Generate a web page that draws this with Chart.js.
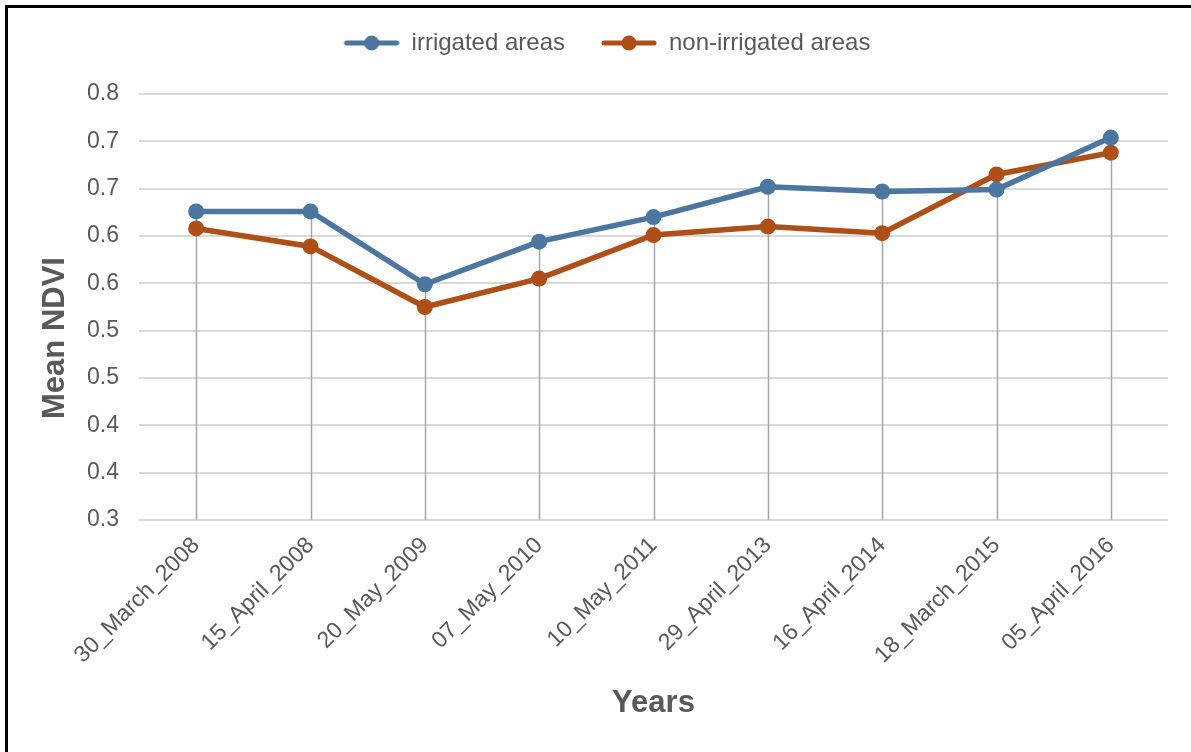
<!DOCTYPE html>
<html>
<head>
<meta charset="utf-8">
<script src="https://cdn.jsdelivr.net/npm/chart.js@4.4.0/dist/chart.umd.min.js"></script>
<style>
  body { margin: 0; background: #fff; }
  #wrap { position: relative; width: 1191px; height: 752px; }
  #frame { position: absolute; left: 5px; top: 5px; right: 0; bottom: 0;
           border-top: 3px solid #000; border-left: 3px solid #000; pointer-events: none; }
</style>
</head>
<body>
<div id="wrap">
  <canvas id="myChart" width="1191" height="752"></canvas>
  <div id="frame"></div>
</div>
<script>
var dates = ['30_March_2008', '15_April_2008', '20_May_2009', '07_May_2010', '10_May_2011',
             '29_April_2013', '16_April_2014', '18_March_2015', '05_April_2016'];
var irrigated = [0.626, 0.626, 0.549, 0.594, 0.620, 0.652, 0.647, 0.649, 0.704];
var nonIrrigated = [0.608, 0.589, 0.525, 0.555, 0.601, 0.610, 0.603, 0.665, 0.688];
// excel rounds the 0.05 steps to one decimal
var yTickLabels = ['0.3', '0.4', '0.4', '0.5', '0.5', '0.6', '0.6', '0.7', '0.7', '0.8'];

var blue = '#4a76a0';
var orange = '#ad4f17';
var txt = '#595959';
var fam = '"Liberation Sans", Arial, sans-serif';

function legendIcon(color){
  var c = document.createElement('canvas');
  c.width = 72; c.height = 18;
  var g = c.getContext('2d');
  g.strokeStyle = color;
  g.lineWidth = 5;
  g.lineCap = 'round';
  g.beginPath(); g.moveTo(19, 9); g.lineTo(69, 9); g.stroke();
  g.fillStyle = color;
  g.beginPath(); g.arc(44, 9, 7.5, 0, Math.PI*2); g.fill();
  return c;
}

// gray drop lines from the highest point down to the axis
var dropLines = {
  id: 'dropLines',
  beforeDatasetsDraw: function(chart){
    var ctx = chart.ctx;
    var x = chart.scales.x, y = chart.scales.y;
    ctx.save();
    ctx.strokeStyle = '#a6a6a6';
    ctx.lineWidth = 1.5;
    for(var i=0;i<dates.length;i++){
      var top = Math.max(irrigated[i], nonIrrigated[i]);
      var px = Math.round(x.getPixelForValue(i)) + 0.5;
      ctx.beginPath();
      ctx.moveTo(px, y.getPixelForValue(top));
      ctx.lineTo(px, chart.chartArea.bottom);
      ctx.stroke();
    }
    ctx.restore();
  }
};

// legend box taller so the plot starts lower, like the original
var legendBox = {
  id: 'legendBox',
  beforeLayout: function(chart){
    var lg = chart.legend;
    if(lg && !lg._patched){
      var f = lg.fit;
      lg.fit = function(){ f.call(this); this.height = 83; };
      lg._patched = true;
    }
  }
};

// y axis title sits a bit below the middle of the axis in the original
var yTitle = {
  id: 'yTitle',
  afterDraw: function(chart){
    var ctx = chart.ctx;
    ctx.save();
    ctx.translate(55, 338);
    ctx.rotate(-Math.PI/2);
    ctx.fillStyle = txt;
    ctx.font = 'bold 31px ' + fam;
    ctx.textAlign = 'center';
    ctx.textBaseline = 'middle';
    ctx.fillText('Mean NDVI', 0, 0);
    ctx.restore();
  }
};

var ctx = document.getElementById('myChart').getContext('2d');
var myChart = new Chart(ctx, {
  type: 'line',
  data: {
    labels: dates,
    datasets: [{
      label: 'irrigated areas',
      data: irrigated,
      borderColor: blue,
      backgroundColor: blue,
      borderWidth: 5.5,
      pointRadius: 8,
      pointBorderWidth: 0,
      pointStyle: 'circle',
      tension: 0
    },
    {
      label: 'non-irrigated areas',
      data: nonIrrigated,
      borderColor: orange,
      backgroundColor: orange,
      borderWidth: 5.5,
      pointRadius: 8,
      pointBorderWidth: 0,
      pointStyle: 'circle',
      tension: 0
    }]
  },
  options: {
    responsive: false,
    animation: false,
    layout: { padding: { left: 30, right: 23, top: 11, bottom: 30 } },
    plugins: {
      tooltip: { enabled: false },
      legend: {
        position: 'top',
        labels: {
          usePointStyle: true,
          pointStyleWidth: 72,
          boxHeight: 18,
          padding: 20,
          color: txt,
          font: { family: fam, size: 24 },
          generateLabels: function(chart){
            return chart.data.datasets.map(function(ds, i){
              return {
                text: ds.label,
                pointStyle: legendIcon(ds.borderColor),
                fillStyle: ds.borderColor,
                strokeStyle: ds.borderColor,
                lineWidth: 0,
                hidden: false,
                datasetIndex: i,
                fontColor: txt
              };
            });
          }
        }
      }
    },
    scales: {
      x: {
        offset: true,
        grid: { display: false },
        border: { display: false },
        ticks: {
          color: txt,
          font: { family: fam, size: 23 },
          minRotation: 45,
          maxRotation: 45,
          autoSkip: false,
          padding: 4
        },
        title: {
          display: true,
          text: 'Years',
          color: txt,
          font: { family: fam, size: 31, weight: 'bold' },
          padding: { top: 1, bottom: 0 }
        },
        afterFit: function(scale){ scale.height = 202; }
      },
      y: {
        min: 0.3,
        max: 0.75,
        grid: { color: '#d9d9d9', lineWidth: 2, drawTicks: false },
        border: { display: false },
        ticks: {
          stepSize: 0.05,
          color: txt,
          font: { family: fam, size: 23 },
          padding: 20,
          callback: function(v, i){ return yTickLabels[i]; }
        },
        afterFit: function(scale){ scale.width = 109; }
      }
    }
  },
  plugins: [dropLines, legendBox, yTitle]
});
</script>
</body>
</html>
